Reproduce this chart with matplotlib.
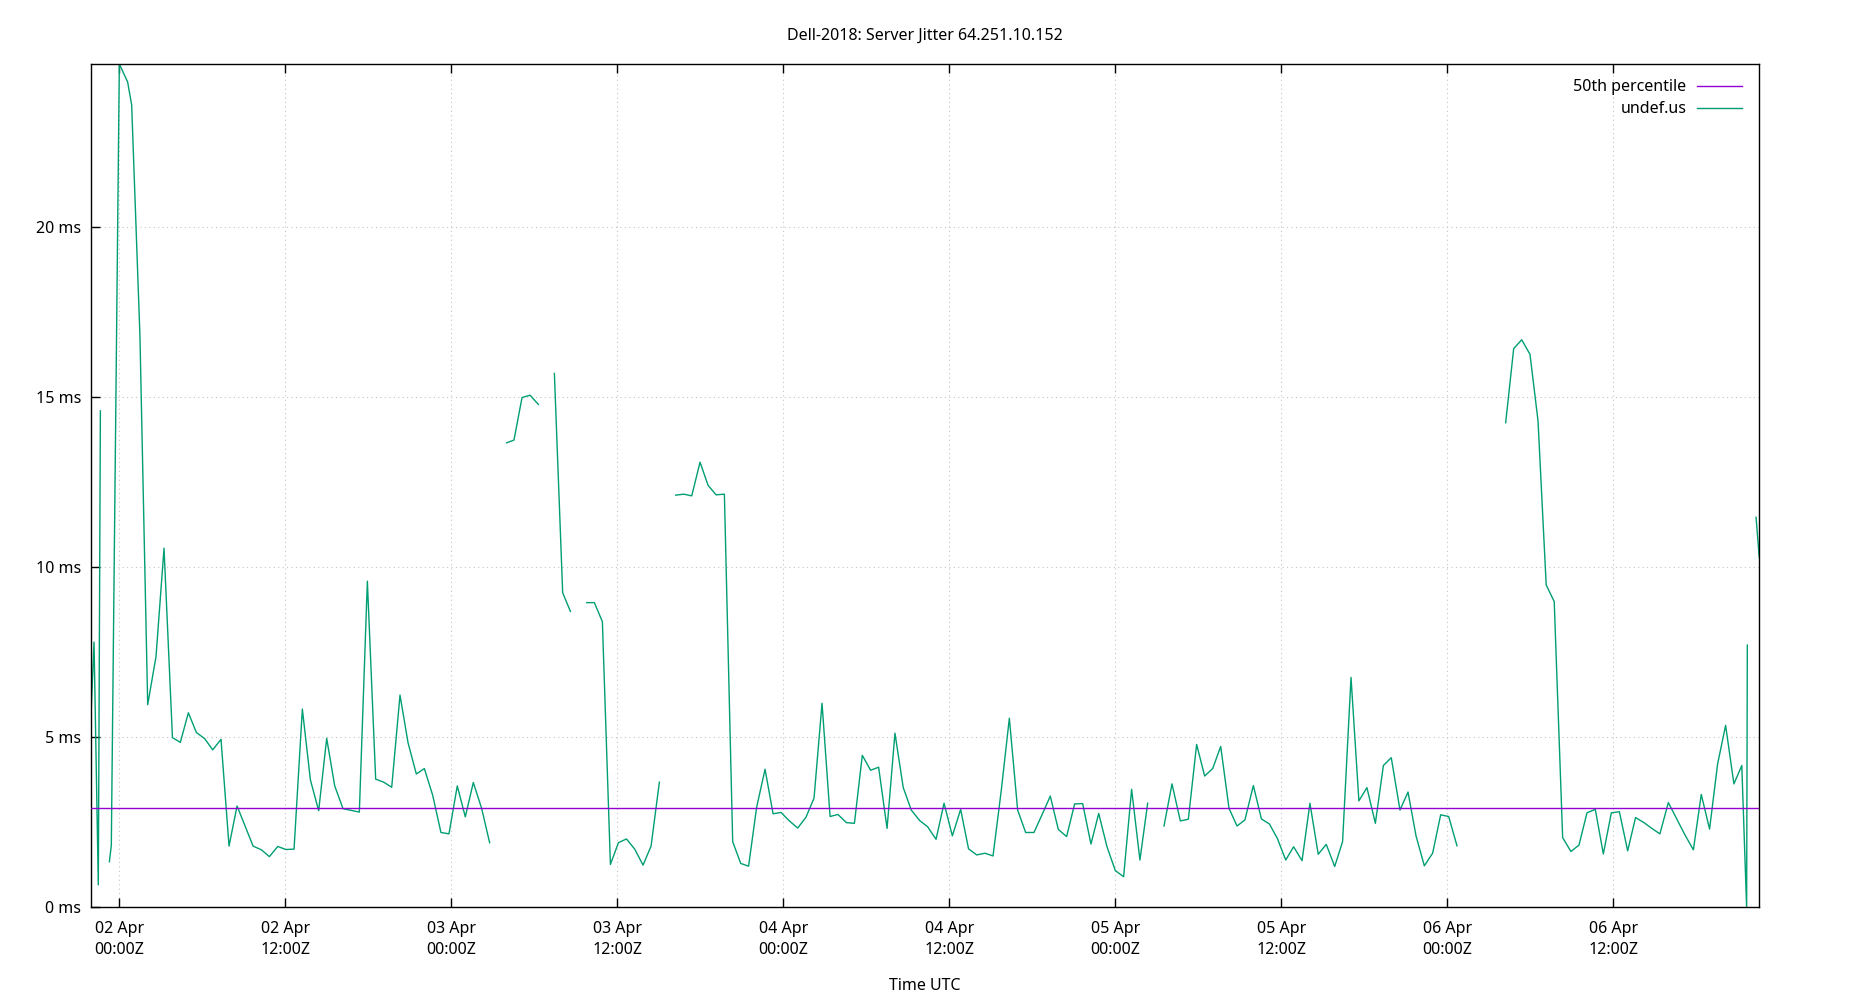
import numpy as np
import pandas as pd
import matplotlib
matplotlib.use("Agg")
import matplotlib.pyplot as plt

plt.rcParams['font.family'] = ['Noto Sans', 'DejaVu Sans']

# ---------------- data ----------------
title = "Dell-2018: Server Jitter 64.251.10.152"
x_label = "Time UTC"
series_name = "undef.us"
median_name = "50th percentile"
median_ms = 2.91
start_time = "2023-04-02 00:00"

# hours relative to 02 Apr 00:00Z ; NaN in jitter_ms marks a gap in the data
hours = [
    -2.07, -1.83, -1.52, -1.37, -1.0,
    -0.72, -0.58, 0.0, 0.60, 0.89, 1.49, 2.05, 2.65, 3.23, 3.84, 4.41, 4.99,
    5.57, 6.17, 6.75, 7.35, 7.93, 8.51, 9.09, 9.67, 10.27, 10.85, 11.45, 12.03,
    12.63, 13.23, 13.81, 14.41, 14.99, 15.57, 16.17, 16.76, 17.35, 17.93, 18.53,
    19.11, 19.69, 20.29, 20.87, 21.47, 22.05, 22.65, 23.25, 23.83, 24.43, 25.01,
    25.59, 26.19, 26.77, 27.4,
    28.00, 28.53, 29.11, 29.69, 30.29, 30.9,
    31.45, 32.05, 32.61, 33.2,
    33.79, 34.34, 34.92, 35.50, 36.08, 36.66, 37.26, 37.86, 38.44, 39.04, 39.6,
    40.22, 40.80, 41.38, 41.98, 42.56, 43.14, 43.74, 44.34, 44.92, 45.49, 46.07,
    46.68, 47.26, 47.83, 48.44, 49.04, 49.64, 50.22, 50.80, 51.38, 51.95, 52.56,
    53.14, 53.71, 54.31, 54.89, 55.50, 56.07, 56.67, 57.25, 57.86, 58.43, 59.04,
    59.62, 60.22, 60.82, 61.39, 61.98, 62.58, 63.16, 63.76, 64.34, 64.94, 65.52,
    66.12, 66.70, 67.30, 67.88, 68.48, 69.06, 69.64, 70.24, 70.80, 71.40, 72.00,
    72.60, 73.18, 73.78, 74.34, 74.9,
    75.52, 76.10, 76.70, 77.28, 77.88, 78.46, 79.04, 79.62, 80.22, 80.80, 81.37,
    81.98, 82.56, 83.14, 83.71, 84.32, 84.89, 85.50, 86.07, 86.67, 87.25, 87.86,
    88.43, 89.04, 89.61, 90.19, 90.80, 91.38, 91.95, 92.58, 93.16, 93.74, 94.34,
    94.94, 95.52, 96.10, 96.70, 98.5,
    100.22, 100.80, 101.38, 101.98, 102.56, 103.15, 103.73, 104.34, 104.94,
    105.52, 106.10, 106.70, 107.28, 107.86, 108.44, 109.04, 109.61, 110.22,
    110.79, 111.37, 111.98, 112.56, 113.18, 113.79, 114.36, 114.96, 115.54,
    116.12, 116.72, 117.29, 117.64, 117.69, 118.0,
    118.32, 118.55,
]
nan = float("nan")
jitter_ms = [
    5.45, 7.80, 0.66, 14.60, nan,
    1.34, 1.82, 24.80, 24.27, 23.60, 16.80, 5.96, 7.37, 10.56, 4.99, 4.85, 5.72,
    5.14, 4.96, 4.63, 4.94, 1.80, 2.98, 2.39, 1.80, 1.69, 1.49, 1.79, 1.70,
    1.71, 5.83, 3.75, 2.84, 4.97, 3.57, 2.90, 2.85, 2.80, 9.59, 3.77,
    3.68, 3.53, 6.24, 4.84, 3.92, 4.08, 3.30, 2.20, 2.16, 3.57, 2.66,
    3.67, 2.91, 1.90, nan,
    13.66, 13.74, 14.99, 15.06, 14.79, nan,
    15.70, 9.25, 8.70, nan,
    8.96, 8.96, 8.40, 1.26, 1.90, 2.01, 1.71, 1.24, 1.80, 3.68, nan,
    12.12, 12.15, 12.10, 13.09, 12.41, 12.13, 12.15, 1.93, 1.29, 1.21, 2.94,
    4.06, 2.75, 2.79, 2.54, 2.33, 2.65, 3.21, 6.00, 2.67, 2.73, 2.49,
    2.47, 4.47, 4.03, 4.12, 2.32, 5.12, 3.52, 2.86, 2.55, 2.37, 2.00,
    3.06, 2.10, 2.88, 1.72, 1.54, 1.59, 1.51, 3.45, 5.56, 2.86, 2.20,
    2.20, 2.72, 3.27, 2.29, 2.08, 3.04, 3.05, 1.86, 2.76, 1.78, 1.08,
    0.90, 3.47, 1.39, 3.06, nan,
    2.39, 3.63, 2.54, 2.59, 4.79, 3.86, 4.08, 4.73, 2.91, 2.39, 2.57,
    3.58, 2.60, 2.45, 2.03, 1.39, 1.78, 1.37, 3.06, 1.56, 1.85, 1.20,
    1.93, 6.76, 3.13, 3.52, 2.47, 4.17, 4.40, 2.86, 3.39, 2.10, 1.22,
    1.59, 2.72, 2.67, 1.81, nan,
    14.25, 16.43, 16.69, 16.26, 14.30, 9.48, 8.99, 2.05, 1.64,
    1.83, 2.78, 2.88, 1.57, 2.78, 2.81, 1.66, 2.64, 2.49,
    2.32, 2.16, 3.08, 2.62, 2.13, 1.69, 3.32, 2.30, 4.21,
    5.35, 3.63, 4.17, 0.00, 7.71, nan,
    11.47, 10.30,
]
y_ticks = [0, 5, 10, 15, 20]
y_tick_labels = ["0 ms", "5 ms", "10 ms", "15 ms", "20 ms"]

# ---------------- plot ----------------
FS = 11.5
t0 = pd.Timestamp(start_time)
times = [t0 + pd.Timedelta(hours=h) for h in hours]
values = np.array(jitter_ms, dtype=float)

fig = plt.figure(figsize=(18.5, 10), dpi=100)
ax = fig.add_axes([0.04903, 0.0927, 0.9019, 0.8433])

line_data, = ax.plot(times, values, color="#009e73", lw=1.0, label=series_name, zorder=2)
line_med = ax.axhline(median_ms, color="#9400d3", lw=1.0, label=median_name, zorder=3)

ax.set_xlim(times[0], times[-1])
ax.set_ylim(0, np.nanmax(values))

xt = pd.date_range(t0, periods=10, freq="12h")
ax.set_xticks(list(xt), labels=[d.strftime("%d %b\n%H:%MZ") for d in xt])
ax.set_yticks(y_ticks, labels=y_tick_labels)

ax.tick_params(axis="x", direction="in", length=6.5, width=1.0, top=True,
               bottom=True, pad=10, labelsize=FS)
ax.tick_params(axis="y", direction="in", length=6.5, width=1.0, left=True,
               right=False, pad=7, labelsize=FS)

ax.grid(True, color="#c4c4c4", linestyle=(0, (1, 3)), linewidth=0.8)
ax.set_axisbelow(True)
for sp in ax.spines.values():
    sp.set_linewidth(1.0)
    sp.set_color("black")

leg = ax.legend(handles=[line_med, line_data], loc="upper right",
                bbox_to_anchor=(0.9895, 0.982), frameon=False, markerfirst=False,
                fontsize=FS, handlelength=2.8, handletextpad=0.65,
                labelspacing=0.38, borderpad=0, borderaxespad=0)

fig.text(0.5, 1 - 35.5 / 1000, title, ha="center", va="center", fontsize=FS)
fig.text(0.5, 1 - 986.5 / 1000, x_label, ha="center", va="center", fontsize=FS)

fig.canvas.draw()
for lab in ax.get_xticklabels():
    lab.set_linespacing(1.38)
    lab.set_horizontalalignment("center")

fig.savefig("out.png", dpi=100)
